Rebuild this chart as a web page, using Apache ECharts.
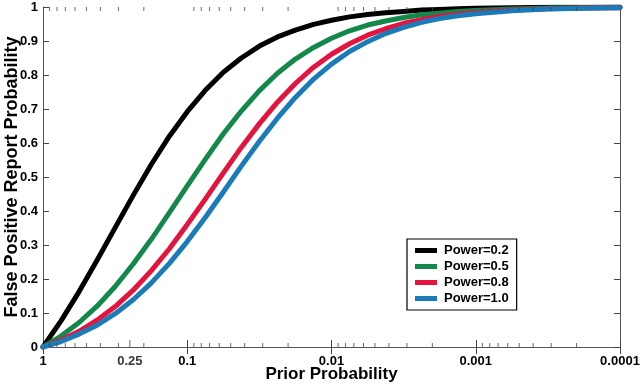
<!DOCTYPE html>
<html>
<head>
<meta charset="utf-8">
<script src="https://cdn.jsdelivr.net/npm/echarts@6/dist/echarts.min.js"></script>
<style>html,body{margin:0;padding:0;background:#fff;}#c{width:640px;height:386px;}</style>
</head>
<body>
<div id="c"></div>
<script>
// Prior probability sample points (x axis, log scale, reversed)
const priors = [1, 0.75, 0.562, 0.422, 0.316, 0.237, 0.178, 0.133, 0.1, 0.075, 0.0562, 0.0422, 0.0316, 0.0237, 0.0178, 0.0133, 0.01, 0.0075, 0.00562, 0.00422, 0.00316, 0.00237, 0.00178, 0.00133, 0.001, 0.000562, 0.000316, 0.000178, 0.0001];
// False positive report probability
const power02 = [0, 0.077, 0.163, 0.255, 0.351, 0.446, 0.536, 0.620, 0.692, 0.755, 0.808, 0.850, 0.885, 0.912, 0.932, 0.949, 0.961, 0.971, 0.978, 0.983, 0.987, 0.991, 0.993, 0.995, 0.996, 0.998, 0.999, 0.999, 1.0];
const power05 = [0, 0.032, 0.072, 0.120, 0.178, 0.244, 0.316, 0.395, 0.474, 0.552, 0.627, 0.694, 0.754, 0.805, 0.847, 0.881, 0.908, 0.930, 0.947, 0.959, 0.969, 0.977, 0.982, 0.987, 0.990, 0.994, 0.997, 0.998, 0.999];
const power08 = [0, 0.020, 0.046, 0.079, 0.119, 0.167, 0.224, 0.289, 0.360, 0.435, 0.512, 0.587, 0.657, 0.720, 0.775, 0.823, 0.861, 0.892, 0.917, 0.936, 0.952, 0.963, 0.972, 0.979, 0.984, 0.991, 0.995, 0.997, 0.998];
const power10 = [0, 0.016, 0.038, 0.064, 0.098, 0.139, 0.188, 0.246, 0.310, 0.381, 0.456, 0.532, 0.605, 0.673, 0.734, 0.788, 0.832, 0.869, 0.898, 0.922, 0.940, 0.955, 0.966, 0.974, 0.980, 0.989, 0.994, 0.996, 0.998];
const seriesNames = ['Power=0.2', 'Power=0.5', 'Power=0.8', 'Power=1.0'];
// Tick labels
const xMajorTicks = [1, 0.1, 0.01, 0.001, 0.0001];
const xExtraTickLabel = [0.25];
const xMinorTicks = [];
[0.0001, 0.001, 0.01, 0.1].forEach(d => { for (let m = 2; m <= 9; m++) xMinorTicks.push(+(d * m).toPrecision(2)); });
const yTicks = [0, 0.1, 0.2, 0.3, 0.4, 0.5, 0.6, 0.7, 0.8, 0.9, 1];

const colors = ['#000000', '#13884a', '#e3153f', '#1a7bb8'];
const FONT = '"Liberation Sans", Arial, sans-serif';
const pair = arr => priors.map((p, i) => [p, arr[i]]);

const lineSeries = [power02, power05, power08, power10].map((arr, i) => ({
  name: seriesNames[i], type: 'line', xAxisIndex: 0, yAxisIndex: 0,
  data: pair(arr), smooth: false, showSymbol: false, symbol: 'none',
  lineStyle: { color: colors[i], width: 5, join: 'round', cap: 'round' }, itemStyle: { color: colors[i] }, z: 3 + i
}));

const tickStyle = { color: '#444' };
const minorBottom = { type: 'scatter', xAxisIndex: 0, yAxisIndex: 0, silent: true, symbol: 'rect', symbolSize: [1, 4], symbolOffset: [0, -2], itemStyle: tickStyle, data: xMinorTicks.map(v => [v, 0]), z: 10 };
const minorTop = { type: 'scatter', xAxisIndex: 0, yAxisIndex: 0, silent: true, symbol: 'rect', symbolSize: [1, 4], symbolOffset: [0, 2], itemStyle: tickStyle, data: xMinorTicks.map(v => [v, 1]), z: 10 };
const extraTick = {
  type: 'scatter', xAxisIndex: 0, yAxisIndex: 0, silent: true, symbol: 'rect', symbolSize: [1, 7], symbolOffset: [0, -3.5],
  itemStyle: tickStyle, data: xExtraTickLabel.map(v => [v, 0]), z: 10,
  label: { show: true, position: 'bottom', distance: 8, formatter: p => String(p.value[0]), color: '#000', fontWeight: 'bold', fontSize: 13, fontFamily: FONT }
};

const chart = echarts.init(document.getElementById('c'), null, { renderer: 'canvas' });
const logAxis = (pos, showLabel) => ({
  type: 'log', logBase: 10, min: 0.0001, max: 1, inverse: true, position: pos,
  axisLine: { show: true, lineStyle: { color: '#555', width: 1 } },
  axisTick: { show: true, inside: true, length: 7, lineStyle: { color: '#444' } },
  minorTick: { show: false }, splitLine: { show: false },
  axisLabel: { show: showLabel, margin: 8, color: '#000', fontWeight: 'bold', fontSize: 13, fontFamily: FONT,
    formatter: v => { const n = Number(Number(v).toPrecision(1)); return xMajorTicks.includes(n) ? String(n) : ''; } }
});
const valAxis = (pos, showLabel) => ({
  type: 'value', min: 0, max: 1, interval: 0.1, position: pos,
  axisLine: { show: true, lineStyle: { color: '#555', width: 1 } },
  axisTick: { show: true, inside: true, length: 6, lineStyle: { color: '#444' } },
  splitLine: { show: false },
  axisLabel: { show: showLabel, margin: 5, color: '#000', fontWeight: 'bold', fontSize: 13, fontFamily: FONT,
    formatter: v => { const n = Math.round(v * 10) / 10; return yTicks.includes(n) ? String(n) : ''; } }
});

const xBottom = Object.assign(logAxis('bottom', true), {
  name: 'Prior Probability', nameLocation: 'middle', nameGap: 19, nameMoveOverlap: false,
  nameTextStyle: { color: '#000', fontWeight: 'bold', fontSize: 17, fontFamily: FONT }
});
const yLeft = Object.assign(valAxis('left', true), {
  name: 'False Positive Report Probability', nameLocation: 'middle', nameGap: 22, nameMoveOverlap: false,
  nameTextStyle: { color: '#000', fontWeight: 'bold', fontSize: 18, fontFamily: FONT }
});

chart.setOption({
  animation: false,
  backgroundColor: '#fff',
  grid: { left: 43, right: 20, top: 7, bottom: 39, containLabel: false, outerBoundsMode: 'none' },
  xAxis: [xBottom, logAxis('top', false)],
  yAxis: [yLeft, valAxis('right', false)],
  legend: {
    data: seriesNames, orient: 'vertical', left: 407, top: 239,
    icon: 'rect', itemWidth: 22, itemHeight: 5, itemGap: 3,
    padding: [5, 8, 5, 8], borderColor: '#000', borderWidth: 1.2, backgroundColor: '#fff',
    textStyle: { color: '#000', fontWeight: 'bold', fontSize: 13, fontFamily: FONT, padding: [0, 0, 0, 2] }
  },
  series: [...lineSeries, minorBottom, minorTop, extraTick]
});
</script>
</body>
</html>
